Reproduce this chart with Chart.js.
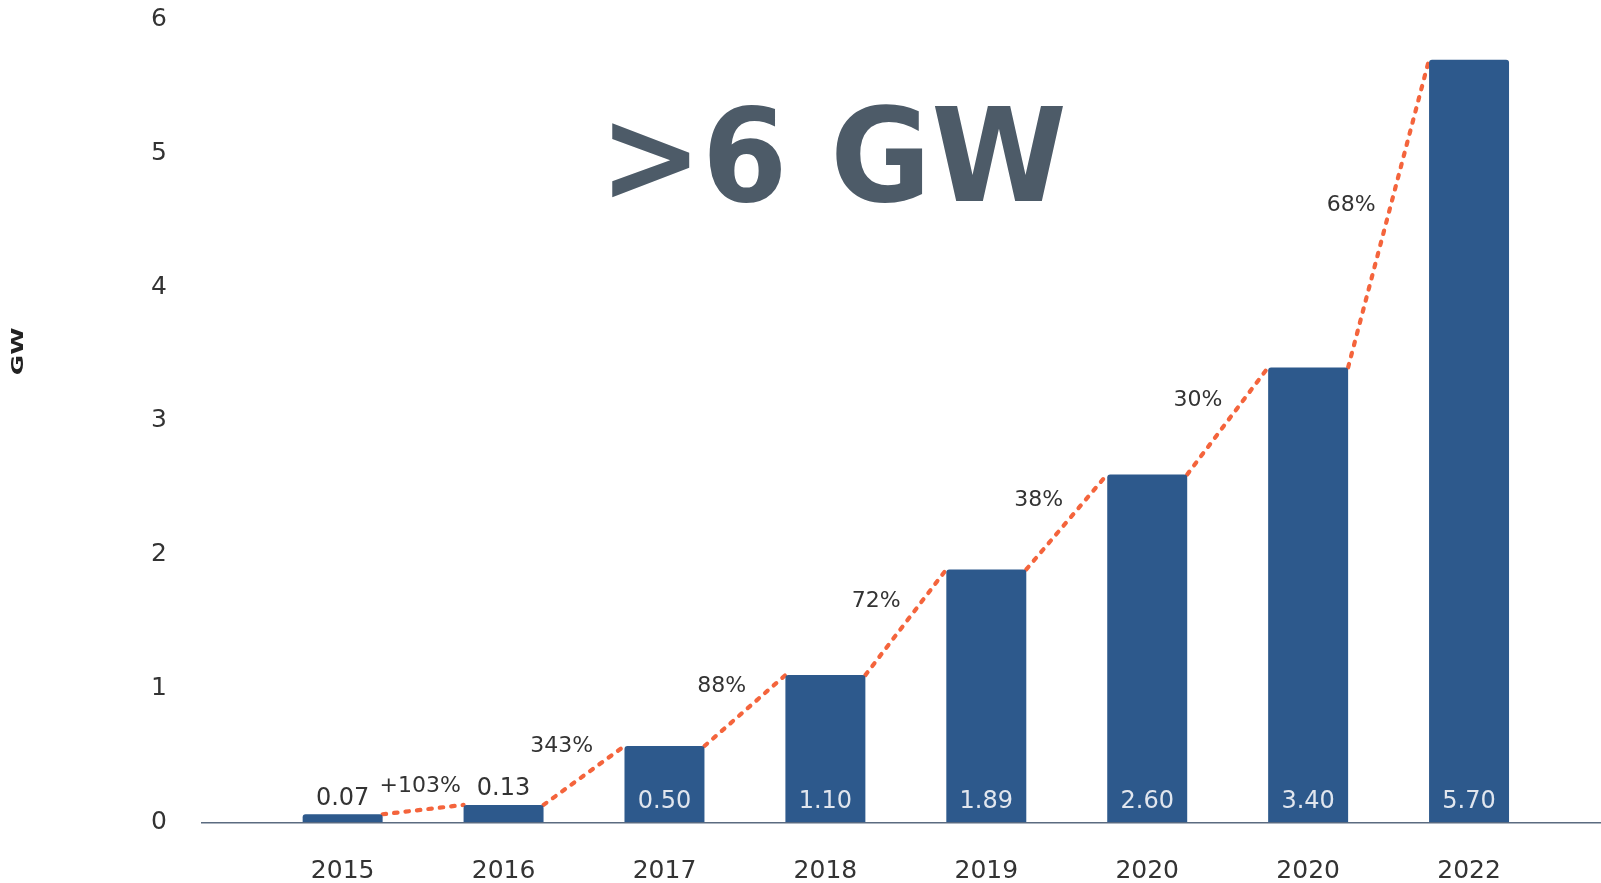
<!DOCTYPE html>
<html><head><meta charset="utf-8">
<script src="https://cdn.jsdelivr.net/npm/chart.js@4.4.1/dist/chart.umd.min.js"></script>
<style>html,body{margin:0;padding:0;background:#fff;}canvas{display:block}</style>
</head><body>
<canvas id="c" width="1601" height="883"></canvas>
<script>
// ---- data ----
const years = ['2015','2016','2017','2018','2019','2020','2020','2022'];
// bar heights as drawn in the picture (the 2017 bar is drawn at ~0.57 while labelled 0.50)
const capacityGW = [0.06, 0.13, 0.57, 1.10, 1.89, 2.60, 3.40, 5.70];
const valueLabels = ['0.07','0.13','0.50','1.10','1.89','2.60','3.40','5.70'];
const growthLabels = ['+103%','343%','88%','72%','38%','30%','68%'];
const yTicks = [0, 1, 2, 3, 4, 5, 6];
const headline = '>6 GW';
const axisTitle = 'GW';

// ---- styling ----
const BAR_PCT = 0.497;
const HALF = BAR_PCT / 2;
const FONT = '"DejaVu Sans", "Liberation Sans", sans-serif';

const barPoints = capacityGW.map((v, i) => ({x: i, y: v}));
const growthPoints = [];
for (let i = 0; i < capacityGW.length - 1; i++) {
  growthPoints.push({x: i + HALF, y: capacityGW[i]});
  growthPoints.push({x: i + 1 - HALF, y: capacityGW[i + 1]});
  if (i < capacityGW.length - 2) growthPoints.push({x: i + 1, y: null});
}

const overlay = {
  id: 'overlay',
  afterDatasetsDraw(chart) {
    const ctx = chart.ctx, xs = chart.scales.x, ys = chart.scales.y;
    ctx.save();
    ctx.textAlign = 'center';
    ctx.textBaseline = 'middle';
    // value labels
    ctx.font = '24px ' + FONT;
    capacityGW.forEach((v, i) => {
      const x = xs.getPixelForValue(i);
      const top = ys.getPixelForValue(v), base = ys.getPixelForValue(0);
      if (base - top > 45) {
        ctx.fillStyle = '#e1e6ee';
        ctx.fillText(valueLabels[i], x, base - 21);
      } else {
        ctx.fillStyle = '#333333';
        ctx.fillText(valueLabels[i], x, top - 16);
      }
    });
    // growth labels
    ctx.font = '22px ' + FONT;
    ctx.fillStyle = '#333333';
    growthLabels.forEach((t, i) => {
      const x1 = xs.getPixelForValue(i + HALF), y1 = ys.getPixelForValue(capacityGW[i]);
      const x2 = xs.getPixelForValue(i + 1 - HALF), y2 = ys.getPixelForValue(capacityGW[i + 1]);
      const mx = (x1 + x2) / 2, my = (y1 + y2) / 2;
      const dx = x2 - x1, dy = y2 - y1, L = Math.hypot(dx, dy);
      const nx = dy / L, ny = -dx / L;
      const w = ctx.measureText(t).width, h = 16;
      const d = 13 + Math.abs(nx) * w / 2 + Math.abs(ny) * h / 2;
      ctx.fillText(t, mx + nx * d, my + ny * d + 2);
    });
    // headline
    ctx.save();
    ctx.translate(xs.getPixelForValue(3.047), ys.getPixelForValue(4.643));
    ctx.scale(0.945, 1);
    ctx.font = 'bold 130px ' + FONT;
    ctx.fillStyle = '#4d5b68';
    ctx.textBaseline = 'alphabetic';
    ctx.fillText(headline, 0, 0);
    ctx.restore();
    // axis title
    ctx.save();
    ctx.translate(ys.left + 19.5, ys.getPixelForValue(3.52));
    ctx.rotate(-Math.PI / 2);
    ctx.scale(1.65, 1);
    ctx.font = 'bold 15px ' + FONT;
    ctx.fillStyle = '#222222';
    ctx.textBaseline = 'middle';
    ctx.fillText(axisTitle, 0, 0);
    ctx.restore();
    ctx.restore();
  }
};

new Chart(document.getElementById('c'), {
  type: 'bar',
  data: {
    datasets: [
      {
        type: 'line',
        data: growthPoints,
        borderColor: '#f4643c',
        borderWidth: 4.2,
        borderDash: [3.5, 8],
        borderCapStyle: 'round',
        pointRadius: 0,
        spanGaps: false,
        fill: false,
        order: 2
      },
      {
        type: 'bar',
        data: barPoints,
        backgroundColor: '#2d598c',
        borderRadius: {topLeft: 3, topRight: 3, bottomLeft: 0, bottomRight: 0},
        borderSkipped: 'start',
        categoryPercentage: 1,
        barPercentage: BAR_PCT,
        order: 1
      }
    ]
  },
  options: {
    responsive: false,
    animation: false,
    events: [],
    layout: {padding: {top: 19.5, left: 0, right: 0, bottom: 0}},
    plugins: {legend: {display: false}, tooltip: {enabled: false}, title: {display: false}},
    scales: {
      x: {
        type: 'linear',
        offset: false,
        min: -0.874,
        max: 7.82,
        grid: {display: false, drawTicks: false, offset: false},
        border: {display: true, color: '#5b6b80', width: 1.5},
        afterBuildTicks(scale) {
          scale.ticks = years.map((y, i) => ({value: i}));
        },
        afterFit(scale) {
          scale.height = 60.7;
          scale.paddingLeft = 0; scale.paddingRight = 0;
          scale.paddingTop = 0; scale.paddingBottom = 0;
        },
        ticks: {
          autoSkip: false,
          maxRotation: 0,
          padding: 34,
          color: '#333333',
          font: {family: FONT, size: 25},
          callback: (v) => years[v]
        }
      },
      y: {
        min: yTicks[0],
        max: yTicks[yTicks.length - 1],
        grid: {display: false, drawTicks: false},
        border: {display: false},
        afterFit(scale) {
          scale.width = 202;
          scale.paddingTop = 0; scale.paddingBottom = 0;
          scale.paddingLeft = 0; scale.paddingRight = 0;
        },
        afterBuildTicks(scale) { scale.ticks = yTicks.map(v => ({value: v})); },
        ticks: {
          padding: 35,
          color: '#333333',
          font: {family: FONT, size: 25}
        }
      }
    }
  },
  plugins: [overlay]
});
</script>
</body></html>
